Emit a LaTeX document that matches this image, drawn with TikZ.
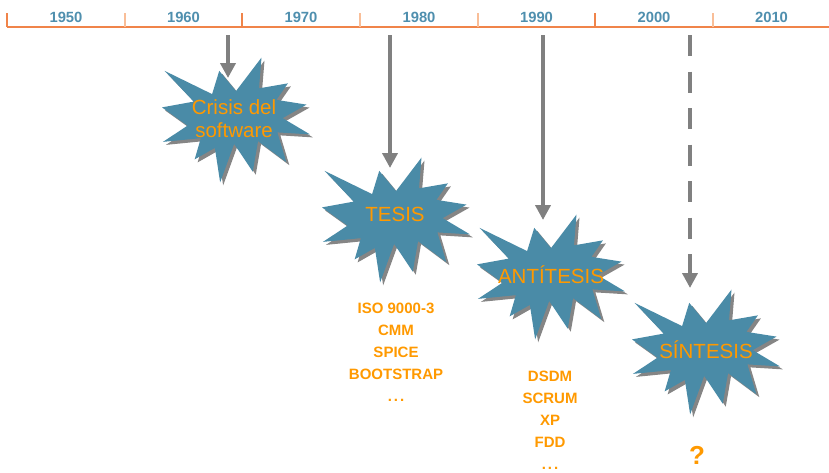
\documentclass[tikz,border=0pt]{standalone}
\usepackage{fontspec}
\setmainfont{Liberation Sans}
\usetikzlibrary{arrows.meta}

\definecolor{burstblue}{HTML}{4A8BA7}
\definecolor{shadowgray}{HTML}{858585}
\definecolor{arrowgray}{HTML}{808080}
\definecolor{labelorange}{HTML}{FF9900}
\definecolor{yearblue}{HTML}{4F8FAE}
\definecolor{lineorange}{HTML}{F0844A}
\definecolor{tickpeach}{HTML}{F9BE98}

% outline of a twelve-point explosion, in a 216 x 216 box (y downwards)
\newcommand\burstoutline{(108,58) -- (145.22,0) -- (141.55,53.25) -- (183.80,44.57)
  -- (167.02,73.15) -- (210.97,81.37) -- (176.07,104.75) -- (216,132.90)
  -- (168.37,129.42) -- (181.45,180.95) -- (140.20,144.57) -- (132.47,197.37)
  -- (105.32,149.35) -- (84.85,216) -- (77.15,156.27) -- (47.62,176.17)
  -- (56.67,139.37) -- (1.35,145.87) -- (37.22,117.75) -- (0,86.15)
  -- (46.27,76.17) -- (3.70,22.95) -- (73.12,63.20) -- (83.52,22.95) -- cycle}

% explosion with drop shadow, centred at (#1,#2)
\newcommand\drawburst[2]{%
  \begin{scope}[shift={(#1,#2)}]
    \begin{scope}[x=0.685pt,y=-0.578pt,shift={(-108,-108)}]
      \fill[shadowgray,xshift=3pt,yshift=-3pt] \burstoutline;
      \fill[burstblue] \burstoutline;
    \end{scope}
  \end{scope}}

% spaced ellipsis
\newcommand\spaceddots{.\hspace{2pt}.\hspace{2pt}.}

\tikzset{
  year/.style={text=yearblue,font=\fontsize{14.8}{17}\selectfont\bfseries,inner sep=0pt},
  bursttext/.style={text=labelorange,font=\fontsize{20.5}{23}\selectfont,align=center,inner sep=0pt},
  listtext/.style={text=labelorange,font=\fontsize{15}{22}\selectfont\bfseries,align=center,inner sep=0pt},
  downarrow/.style={draw=arrowgray,line width=4.8pt,
    -{Triangle[width=15pt,length=15pt]},arrowgray},
  dashedarrow/.style={downarrow,dash pattern=on 21pt off 15.5pt},
  bigtick/.style={lineorange,line width=1.2pt},
  smalltick/.style={tickpeach,line width=1.2pt},
}

\begin{document}
\begin{tikzpicture}[x=1pt,y=-1pt]
\useasboundingbox (0,0) rectangle (829,472);

% timeline
\draw[lineorange,line width=1.2pt] (7,27) -- (829,27);
\foreach \tx in {7,242,595} \draw[bigtick] (\tx,13) -- (\tx,27);
\foreach \tx in {125,360,478,713} \draw[smalltick] (\tx,13) -- (\tx,27);

\node[year] (y1950) at (66,17) {1950};
\node[year] (y1960) at (183.5,17) {1960};
\node[year] (y1970) at (301,17) {1970};
\node[year] (y1980) at (419,17) {1980};
\node[year] (y1990) at (536.5,17) {1990};
\node[year] (y2000) at (654,17) {2000};
\node[year] (y2010) at (771.5,17) {2010};

% explosions
\drawburst{236}{120}
\drawburst{396}{220}
\drawburst{551}{277}
\drawburst{706}{352}

\node[bursttext] (crisis) at (234,119) {Crisis del\\software};
\node[bursttext] (tesis) at (395,214) {TESIS};
\node[bursttext] (antitesis) at (551,275) {ANTÍTESIS};
\node[bursttext] (sintesis) at (706,350) {SÍNTESIS};

% arrows from the timeline
\coordinate (c1s) at (228,35);  \coordinate (c1e) at (228,78);
\coordinate (c2s) at (390,35);  \coordinate (c2e) at (390,168);
\coordinate (c3s) at (543,35);  \coordinate (c3e) at (543,220);
\coordinate (c4s) at (690,35);  \coordinate (c4e) at (690,288);
\draw[downarrow] (c1s) -- (c1e);
\draw[downarrow] (c2s) -- (c2e);
\draw[downarrow] (c3s) -- (c3e);
\draw[dashedarrow] (c4s) -- (c4e);

% lists under the explosions
\node[listtext] (models) at (396,352) {ISO 9000-3\\CMM\\SPICE\\BOOTSTRAP\\\spaceddots};
\node[listtext] (agile) at (550,420) {DSDM\\SCRUM\\XP\\FDD\\\spaceddots};
\node[text=labelorange,font=\fontsize{26}{30}\selectfont\bfseries,inner sep=0pt] (question) at (697,455) {?};
\end{tikzpicture}
\end{document}
